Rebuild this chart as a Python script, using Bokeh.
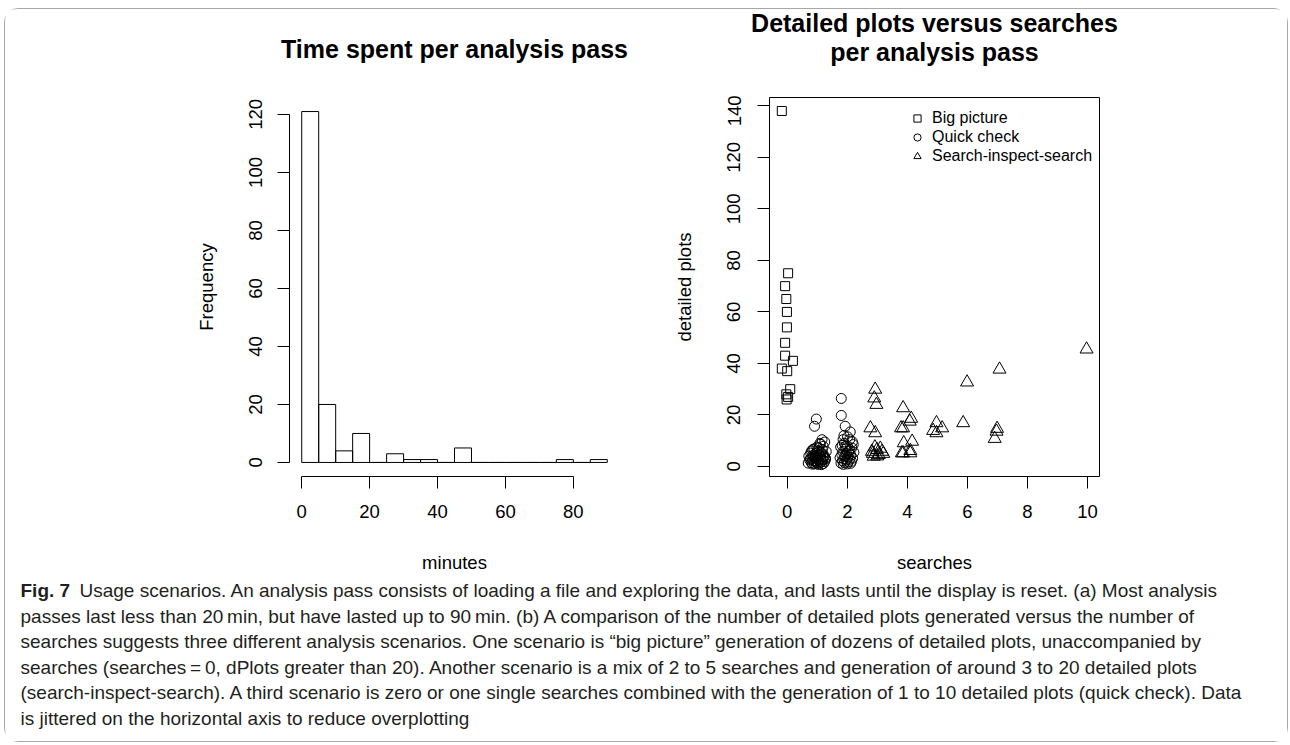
from bokeh.plotting import figure
from bokeh.layouts import row, column
from bokeh.models import Range1d, FixedTicker, Legend, LegendItem
from bokeh.embed import file_html
from bokeh.resources import INLINE
from bokeh.core.properties import value

FONT = "Liberation Sans"
CAP_FONT = "Liberation Sans"

# ---------------- data ----------------
bin_left = [0, 5, 10, 15, 20, 25, 30, 35, 40, 45, 50, 55, 60, 65, 70, 75, 80, 85]
bin_right = [5, 10, 15, 20, 25, 30, 35, 40, 45, 50, 55, 60, 65, 70, 75, 80, 85, 90]
counts = [121, 20, 4, 10, 0, 3, 1, 1, 0, 5, 0, 0, 0, 0, 0, 1, 0, 1]
hist_xticks = [0, 20, 40, 60, 80]
hist_yticks = [0, 20, 40, 60, 80, 100, 120]

big_x = [-0.18, 0.03, -0.07, -0.03, -0.01, -0.01, -0.07, -0.07, -0.18, 0.0, 0.19, -0.03, 0.10, 0.03, -0.02]
big_y = [138, 75, 70, 65, 60, 54, 48, 43, 38, 37, 41, 28, 30, 27, 26]

quick_x = [0.97, 0.91, 1.16, 1.10, 1.25, 1.20, 1.05, 0.85, 1.00, 1.12, 0.78, 0.95, 1.30, 0.88, 1.08,
           1.18, 0.72, 1.02, 0.92, 1.22, 0.82, 1.12, 0.98, 1.28, 0.75, 1.05, 0.86, 1.15, 0.95, 1.25,
           0.80, 1.10, 1.00, 0.90, 1.20, 0.70, 1.03, 0.84, 1.14, 0.96, 1.06, 0.89, 1.24, 0.77, 1.17,
           1.09, 0.94, 1.01, 0.87, 1.19, 0.81, 1.27, 0.99,
           1.80, 1.80, 1.93, 2.10, 2.08, 1.86, 2.20, 1.90, 2.00, 1.78, 2.15, 1.95, 2.05, 1.85, 2.22,
           1.98, 1.82, 2.12, 1.92, 2.02, 1.76, 2.18, 1.88, 2.08, 1.97, 1.84, 2.14, 2.03, 1.91, 1.79,
           2.11, 2.00, 1.87, 2.06, 1.94, 2.17, 1.83, 2.01, 1.89, 2.09]
quick_y = [18.4, 15.6, 10.4, 8.6, 9.5, 7.8, 7.2, 6.5, 6.0, 5.5, 5.2, 5.0, 5.8, 4.5, 4.2,
           4.8, 4.0, 3.8, 3.5, 3.6, 3.2, 3.0, 2.8, 2.9, 2.5, 2.4, 2.2, 2.0, 1.8, 1.9,
           1.5, 1.4, 1.2, 1.0, 1.1, 1.3, 0.8, 0.9, 0.7, 2.1, 5.9, 6.8, 4.1, 3.0, 6.5,
           9.0, 4.0, 1.6, 3.8, 2.6, 6.0, 3.2, 7.5,
           26.4, 19.8, 15.6, 13.4, 10.4, 10.4, 8.5, 9.0, 8.0, 7.5, 7.2, 6.8, 6.0, 5.8, 5.5,
           5.0, 4.6, 4.4, 4.0, 3.6, 3.4, 3.2, 3.0, 2.8, 2.5, 2.2, 2.0, 1.8, 1.5, 1.3,
           1.2, 1.0, 0.8, 4.8, 7.8, 9.6, 8.2, 11.5, 12.0, 6.5]

sis_x = [2.93, 2.90, 2.97, 2.77, 2.93, 2.82, 2.99, 3.16, 2.88, 3.05, 2.92, 3.10, 2.85, 3.20, 3.00,
         3.86, 4.13, 4.08, 3.86, 3.79, 4.16, 3.88, 3.86, 4.10, 4.10, 3.82,
         4.97, 5.16, 4.86, 4.97, 5.86, 5.99, 6.99, 6.97, 6.91, 7.07, 9.97]
sis_y = [29.9, 26.5, 24.0, 14.9, 13.0, 5.8, 6.5, 5.8, 3.9, 4.5, 7.5, 7.0, 5.0, 5.0, 4.0,
         22.7, 18.6, 17.5, 14.9, 14.9, 9.7, 9.1, 5.2, 6.1, 5.2, 5.2,
         16.9, 14.9, 13.9, 13.0, 16.9, 32.7, 14.7, 13.6, 10.8, 37.7, 45.5]

scatter_xticks = [0, 2, 4, 6, 8, 10]
scatter_yticks = [0, 20, 40, 60, 80, 100, 120, 140]
legend_labels = ["Big picture", "Quick check", "Search-inspect-search"]

titles = ["Time spent per analysis pass", "Detailed plots versus searches", "per analysis pass"]
title_panel = [0, 1, 1]      # which panel each title line belongs to
title_line = [1, 0, 1]       # title row (0 = upper, 1 = lower)

caption_bold = "Fig. 7"
caption_lines = [
    "Usage scenarios. An analysis pass consists of loading a file and exploring the data, and lasts until the display is reset. (a) Most analysis",
    "passes last less than 20\u2009min, but have lasted up to 90\u2009min. (b) A comparison of the number of detailed plots generated versus the number of",
    "searches suggests three different analysis scenarios. One scenario is \u201cbig picture\u201d generation of dozens of detailed plots, unaccompanied by",
    "searches (searches\u2009=\u20090, dPlots greater than 20). Another scenario is a mix of 2 to 5 searches and generation of around 3 to 20 detailed plots",
    "(search-inspect-search). A third scenario is zero or one single searches combined with the generation of 1 to 10 detailed plots (quick check). Data",
    "is jittered on the horizontal axis to reduce overplotting",
]


def style_axes(p, xb, yb, xt, yt, ystand):
    p.xaxis.ticker = FixedTicker(ticks=xt)
    p.yaxis.ticker = FixedTicker(ticks=yt)
    p.xaxis.bounds = xb
    p.yaxis.bounds = yb
    for ax in (p.xaxis[0], p.yaxis[0]):
        ax.major_tick_out = 12
        ax.major_tick_in = 0
        ax.minor_tick_line_color = None
        ax.axis_line_color = "black"
        ax.major_tick_line_color = "black"
        ax.axis_line_width = 1
        ax.major_label_text_font = FONT
        ax.major_label_text_font_size = "18.5px"
        ax.major_label_text_color = "black"
        ax.axis_label_text_font = FONT
        ax.axis_label_text_font_style = "normal"
        ax.axis_label_text_font_size = "18.5px"
        ax.axis_label_text_color = "black"
    p.xaxis.major_label_standoff = 16
    p.xaxis.axis_label_standoff = 31
    p.yaxis.major_label_standoff = ystand
    p.yaxis.axis_label_standoff = 30
    p.yaxis.major_label_orientation = "vertical"
    p.xgrid.grid_line_color = None
    p.ygrid.grid_line_color = None


W = 641
FW, FH = 330, 379
HEAD_H = 86
TOP = 2
PH = TOP + FH + 99

# ---------------- header with the two titles ----------------
p0 = figure(width=2 * W, height=HEAD_H, x_range=Range1d(0, 2 * W), y_range=Range1d(HEAD_H, 0),
            output_backend="svg", toolbar_location=None, title_location=None,
            x_axis_location=None, y_axis_location=None,
            min_border_left=0, min_border_right=0, min_border_top=0, min_border_bottom=0)
p0.outline_line_color = None
p0.xgrid.grid_line_color = None
p0.ygrid.grid_line_color = None
frame_centers = [284 + FW / 2, W + 123 + FW / 2]
title_x = [frame_centers[i] for i in title_panel]
title_y = [13 + 29 * r + (-3 if pnl == 0 else 0) for pnl, r in zip(title_panel, title_line)]
p0.text(x=title_x, y=title_y, text=titles, text_font=value(FONT), text_font_style="bold",
        text_font_size="25px", text_align="center", text_baseline="middle", text_color="black")

# ---------------- histogram ----------------
p1 = figure(width=W, height=PH, x_range=Range1d(-3.6, 93.6), y_range=Range1d(-4.84, 125.84),
            output_backend="svg", toolbar_location=None, title_location=None,
            min_border_left=284, min_border_right=W - 284 - FW,
            min_border_top=TOP, min_border_bottom=PH - TOP - FH,
            x_axis_label="minutes", y_axis_label="Frequency")
p1.outline_line_color = None
p1.quad(left=bin_left, right=bin_right, bottom=0, top=counts,
        fill_color=None, line_color="black", line_width=1)
style_axes(p1, (0, 80), (0, 120), hist_xticks, hist_yticks, 15)

# ---------------- scatter ----------------
p2 = figure(width=W, height=PH, x_range=Range1d(-0.59, 10.4), y_range=Range1d(-3.9, 143.24),
            output_backend="svg", toolbar_location=None, title_location=None,
            min_border_left=123, min_border_right=W - 123 - FW,
            min_border_top=TOP, min_border_bottom=PH - TOP - FH,
            x_axis_label="searches", y_axis_label="detailed plots")
p2.outline_line_color = "black"
p2.outline_line_width = 1
style_axes(p2, (0, 10), (0, 140), scatter_xticks, scatter_yticks, 17)
r_big = p2.scatter(big_x, big_y, marker="square", size=9, fill_color=None,
                   line_color="black", line_width=1)
r_quick = p2.scatter(quick_x, quick_y, marker="circle", size=10, fill_color=None,
                     line_color="black", line_width=1)
r_sis = p2.scatter(sis_x, sis_y, marker="triangle", size=13, fill_color=None,
                   line_color="black", line_width=1)
legend = Legend(items=[LegendItem(label=legend_labels[0], renderers=[r_big]),
                       LegendItem(label=legend_labels[1], renderers=[r_quick]),
                       LegendItem(label=legend_labels[2], renderers=[r_sis])],
                location=(139, 311), border_line_color=None, background_fill_alpha=0,
                glyph_width=18, glyph_height=18, spacing=1, padding=0, margin=0,
                label_standoff=6, label_height=18, label_text_font=FONT,
                label_text_font_size="16px", label_text_color="black")
p2.add_layout(legend)

# ---------------- caption ----------------
CW, CH = 2 * W, 166
p3 = figure(width=CW, height=CH, x_range=Range1d(0, CW), y_range=Range1d(CH, 0),
            output_backend="svg", toolbar_location=None, title_location=None,
            x_axis_location=None, y_axis_location=None,
            min_border_left=0, min_border_right=0, min_border_top=0, min_border_bottom=0)
p3.outline_line_color = None
p3.xgrid.grid_line_color = None
p3.ygrid.grid_line_color = None
line_y = [15 + 25.6 * i for i in range(len(caption_lines))]
line_x = [74] + [15] * (len(caption_lines) - 1)
p3.text(x=[15], y=[line_y[0]], text=[caption_bold], text_font=value(CAP_FONT),
        text_font_style="bold", text_font_size="19px", text_baseline="middle",
        text_color="#231f20")
p3.text(x=line_x, y=line_y, text=caption_lines, text_font=value(CAP_FONT),
        text_font_size="19px", text_baseline="middle", text_color="#231f20")

layout = column(p0, row(p1, p2), p3, margin=(8, 0, 0, 4),
                styles={"border": "1px solid #a8a8a8", "border-radius": "14px"})

open("out.html", "w").write(file_html(layout, INLINE))
